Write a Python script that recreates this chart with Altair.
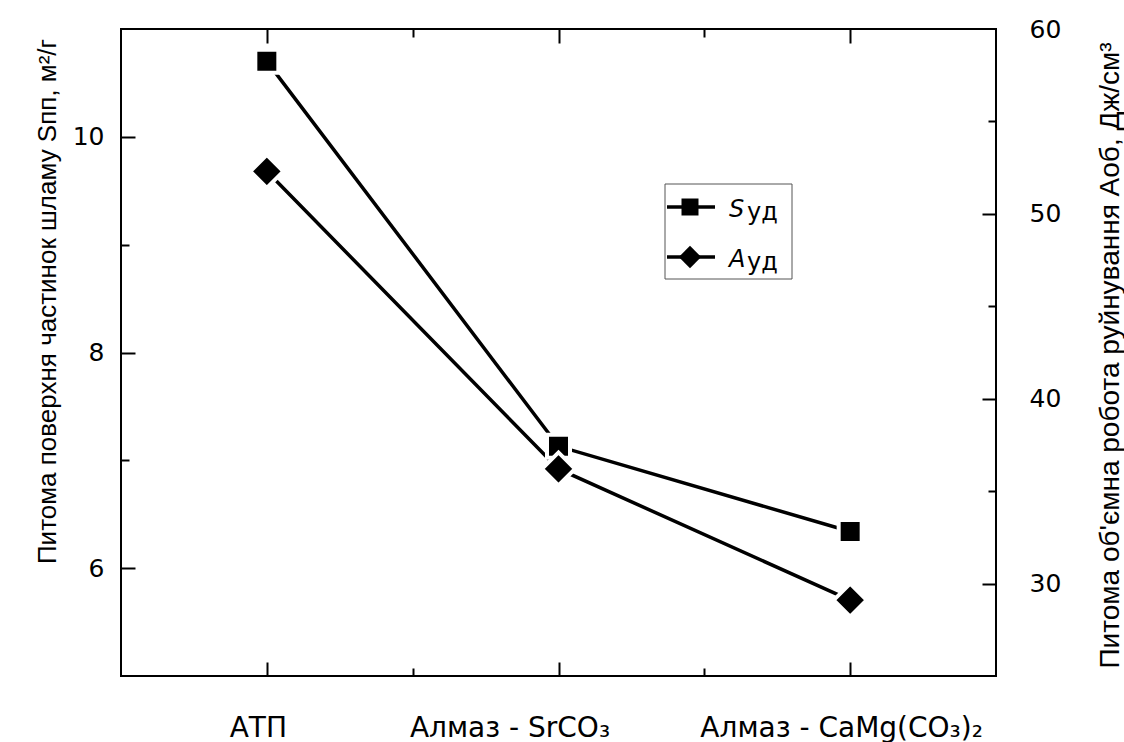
import json
import altair as alt
import pandas as pd

# ---------------- data ----------------
categories = ["АТП", "Алмаз - SrCO₃", "Алмаз - CaMg(CO₃)₂"]
x_positions = [1, 2, 3]
s_values = [10.70, 7.13, 6.34]      # S_пп, m2/g (left axis)
a_values = [52.3, 36.2, 29.1]       # A_об, J/cm3 (right axis)

series_names = ["Sуд", "Aуд"]
legend_letters = ["S", "A"]
legend_suffix = ["уд", "уд"]

s_label_ticks = [6, 8, 10]
s_all_ticks = [6, 7, 8, 9, 10]
a_label_ticks = [30, 40, 50, 60]
a_all_ticks = [30, 35, 40, 45, 50, 55]
x_all_ticks = [1, 1.5, 2, 2.5, 3]

x_domain = [0.5, 3.5]
s_domain = [5, 11]
a_domain = [25, 60]

left_title = "Питома поверхня частинок шламу Sпп, м²/г"
right_title = "Питома об'ємна робота руйнування Аоб, Дж/см³"

W, H = 875, 647

df = pd.DataFrame({"x": x_positions, "cat": categories, "s": s_values, "a": a_values})
leg_df = pd.DataFrame({"series": series_names, "letter": legend_letters, "suffix": legend_suffix})
box_df = pd.DataFrame({"box": [0]})

label_expr = f"{json.dumps(categories, ensure_ascii=False)}[round(datum.value) - 1]"

xs = alt.Scale(domain=x_domain, nice=False, zero=False)
ss = alt.Scale(domain=s_domain, nice=False, zero=False)
as_ = alt.Scale(domain=a_domain, nice=False, zero=False)

TICK_FONT = "DejaVu Sans"
TITLE_FONT = "Liberation Sans"

# ---- axes carrying labels / titles ----
x_label_axis = alt.Axis(
    values=x_positions, labelExpr=label_expr, ticks=False, tickSize=0, domain=False,
    grid=False, title=None, labelFont=TICK_FONT, labelFontSize=28, labelColor="black",
    labelPadding=38, labelFlush=False, labelOverlap=False, labelLimit=600,
    labelOffset={"condition": {"test": "datum.value == 2", "value": -49}, "value": -9},
)
s_label_axis = alt.Axis(
    orient="left", values=s_label_ticks, ticks=False, tickSize=0, domain=False, grid=False,
    labelFont=TICK_FONT, labelFontSize=25, labelColor="black", labelPadding=17,
    labelOverlap=False, labelFlush=False,
    title=left_title, titleFont=TITLE_FONT, titleFontSize=26, titleFontWeight="normal",
    titleColor="black", titleAngle=270, titleBaseline="alphabetic", titleAlign="center",
    titleX=-66, titleY=272, titleLimit=1000,
)
a_label_axis = alt.Axis(
    orient="right", values=a_label_ticks, ticks=False, tickSize=0, domain=False, grid=False,
    labelFont=TICK_FONT, labelFontSize=25, labelColor="black", labelPadding=33,
    labelOverlap=False, labelFlush=False,
    title=right_title, titleFont=TITLE_FONT, titleFontSize=28, titleFontWeight="normal",
    titleColor="black", titleAngle=270, titleBaseline="alphabetic", titleAlign="center",
    titleX=122, titleY=326, titleLimit=1000,
)

# ---- inward tick axes (placed on the opposite edge with a negative offset) ----
def tick_axis(orient, offset, values, major_test):
    return alt.Axis(
        orient=orient, offset=offset, values=values, labels=False, domain=False,
        grid=False, title=None, ticks=True, tickColor="black", tickWidth=2,
        tickSize={"condition": {"test": major_test, "value": 14}, "value": 8},
    )

s_tick_axis = tick_axis("right", -W, s_all_ticks, "datum.value % 2 == 0")
a_tick_axis = tick_axis("left", -W, a_all_ticks, "datum.value % 10 == 0")
x_tick_axis_bottom = tick_axis("top", -H, x_all_ticks, "datum.value % 1 == 0")
x_tick_axis_top = tick_axis("bottom", -H, x_all_ticks, "datum.value % 1 == 0")

base = alt.Chart(df)

s_line = base.mark_line(color="black", strokeWidth=3.5).encode(
    x=alt.X("x:Q", scale=xs, axis=x_label_axis),
    y=alt.Y("s:Q", scale=ss, axis=s_label_axis),
)
a_line = base.mark_line(color="black", strokeWidth=3.5).encode(
    x=alt.X("x:Q", scale=xs, axis=None),
    y=alt.Y("a:Q", scale=as_, axis=a_label_axis),
)
s_points = base.mark_point(
    shape="square", filled=True, fill="black", stroke="white", strokeWidth=4,
    size=529, opacity=1,
).encode(
    x=alt.X("x:Q", scale=xs, axis=x_tick_axis_bottom),
    y=alt.Y("s:Q", scale=ss, axis=s_tick_axis),
)
a_points = base.mark_point(
    shape="diamond", filled=True, fill="black", stroke="white", strokeWidth=4,
    size=1089, opacity=1,
).encode(
    x=alt.X("x:Q", scale=xs, axis=x_tick_axis_top),
    y=alt.Y("a:Q", scale=as_, axis=a_tick_axis),
)

# ---------------- legend (drawn as a small inset) ----------------
leg_y = alt.Scale(type="point", domain=series_names, range=[178, 228], padding=0)
leg_row = alt.Y("series:N", scale=leg_y, axis=None)

legend_box = alt.Chart(box_df).mark_rect(
    fill="white", stroke="#555555", strokeWidth=1
).encode(
    x=alt.value(544), x2=alt.value(671), y=alt.value(155), y2=alt.value(250)
)
legend_lines = alt.Chart(leg_df).mark_rule(color="black", strokeWidth=3.5).encode(
    x=alt.value(546), x2=alt.value(594), y=leg_row
)
legend_marks = alt.Chart(leg_df).mark_point(
    filled=True, fill="black", opacity=1, strokeWidth=0
).encode(
    x=alt.value(569), y=leg_row,
    shape=alt.Shape("series:N", scale=alt.Scale(domain=series_names, range=["square", "diamond"]), legend=None),
    size=alt.Size("series:N", scale=alt.Scale(domain=series_names, range=[289, 500]), legend=None),
)
legend_letter = alt.Chart(leg_df).mark_text(
    font=TICK_FONT, fontSize=24, fontStyle="italic", align="left",
    baseline="alphabetic", dy=10, color="black",
).encode(x=alt.value(608), y=leg_row, text="letter:N")
legend_sub = alt.Chart(leg_df).mark_text(
    font=TICK_FONT, fontSize=24, align="left", baseline="alphabetic", dy=13, color="black",
).encode(x=alt.value(626), y=leg_row, text="suffix:N")

chart = alt.layer(
    s_line, a_line, s_points, a_points,
    legend_box, legend_lines, legend_marks, legend_letter, legend_sub,
).resolve_scale(
    x="independent", y="independent", shape="independent", size="independent"
).resolve_axis(
    x="independent", y="independent"
).properties(
    width=W, height=H,
    autosize=alt.AutoSizeParams(type="none"),
    padding={"left": 121, "top": 29, "right": 128, "bottom": 66},
    background="white",
).configure_view(
    stroke="black", strokeWidth=2
)

chart.save("out.html", embed_options={"renderer": "svg", "actions": False})
